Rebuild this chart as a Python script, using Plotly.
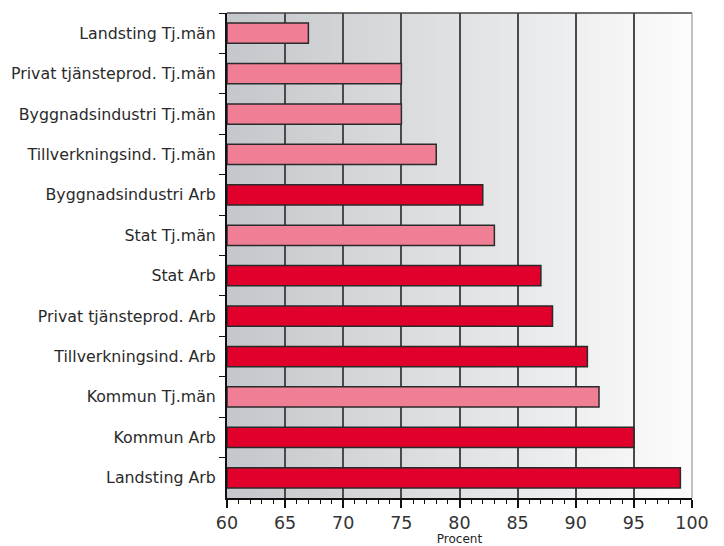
import plotly.graph_objects as go

categories = [
    "Landsting Tj.män",
    "Privat tjänsteprod. Tj.män",
    "Byggnadsindustri Tj.män",
    "Tillverkningsind. Tj.män",
    "Byggnadsindustri Arb",
    "Stat Tj.män",
    "Stat Arb",
    "Privat tjänsteprod. Arb",
    "Tillverkningsind. Arb",
    "Kommun Tj.män",
    "Kommun Arb",
    "Landsting Arb",
]
values = [67, 75, 75, 78, 82, 83, 87, 88, 91, 92, 95, 99]
groups = ["Tj", "Tj", "Tj", "Tj", "Arb", "Tj", "Arb", "Arb", "Arb", "Tj", "Arb", "Arb"]
x_ticks = [60, 65, 70, 75, 80, 85, 90, 95, 100]

PINK = "#F07F95"
RED = "#E0002B"
colors = [PINK if g == "Tj" else RED for g in groups]

fig = go.Figure()
fig.add_trace(go.Bar(
    y=categories, x=[v - 60 for v in values], base=60, orientation="h",
    marker=dict(color=colors, line=dict(color="#2a2a2a", width=1.5)),
    width=0.5, showlegend=False, hoverinfo="skip",
))

# gradient background (overlapping strips to avoid seams)
shapes = []
n = 80
c0 = (196, 199, 203)
c1 = (252, 252, 252)
for i in range(n):
    t = i / (n - 1)
    c = tuple(int(round(c0[k] + (c1[k] - c0[k]) * t)) for k in range(3))
    x0 = 60 + 40 * i / n
    shapes.append(dict(type="rect", xref="x", yref="paper", x0=x0, x1=100,
                       y0=0, y1=1, fillcolor="rgb(%d,%d,%d)" % c, line=dict(width=0),
                       layer="below"))
# top border and right border
shapes.append(dict(type="line", xref="paper", yref="paper", x0=0, x1=1, y0=1, y1=1,
                   line=dict(color="#444", width=1.5)))
shapes.append(dict(type="line", xref="paper", yref="paper", x0=1, x1=1, y0=0, y1=1,
                   line=dict(color="#999", width=1.2)))

fig.update_layout(
    width=724, height=546,
    margin=dict(l=227, r=32, t=13, b=48),
    paper_bgcolor="white", plot_bgcolor="rgba(0,0,0,0)",
    shapes=shapes,
    font=dict(family="DejaVu Sans, Arial, sans-serif", color="#222"),
)
fig.update_xaxes(
    range=[60, 100], tickvals=x_ticks, ticktext=[str(t) for t in x_ticks],
    showgrid=True, gridcolor="#4a4a4a", gridwidth=1.5,
    showline=True, linecolor="#111", linewidth=2,
    ticks="outside", ticklen=8, tickcolor="#111", tickwidth=1.5,
    minor=dict(dtick=1, ticks="outside", ticklen=4, tickcolor="#111", tickwidth=1, showgrid=False),
    tickfont=dict(size=17.5, color="#333"),
    title=dict(text="Procent", font=dict(size=12, color="#222"), standoff=1),
    zeroline=False, automargin=False,
)
fig.update_yaxes(
    autorange="reversed", type="category",
    showline=True, linecolor="#111", linewidth=2,
    ticks="outside", ticklen=6, tickcolor="#111", tickson="boundaries",
    showgrid=False, automargin=False, ticklabelstandoff=6,
    tickfont=dict(size=15.8, color="#2a2a2a"),
)

fig.write_html("out.html", config={"displayModeBar": False},
               post_script="document.body.style.margin='0';")
